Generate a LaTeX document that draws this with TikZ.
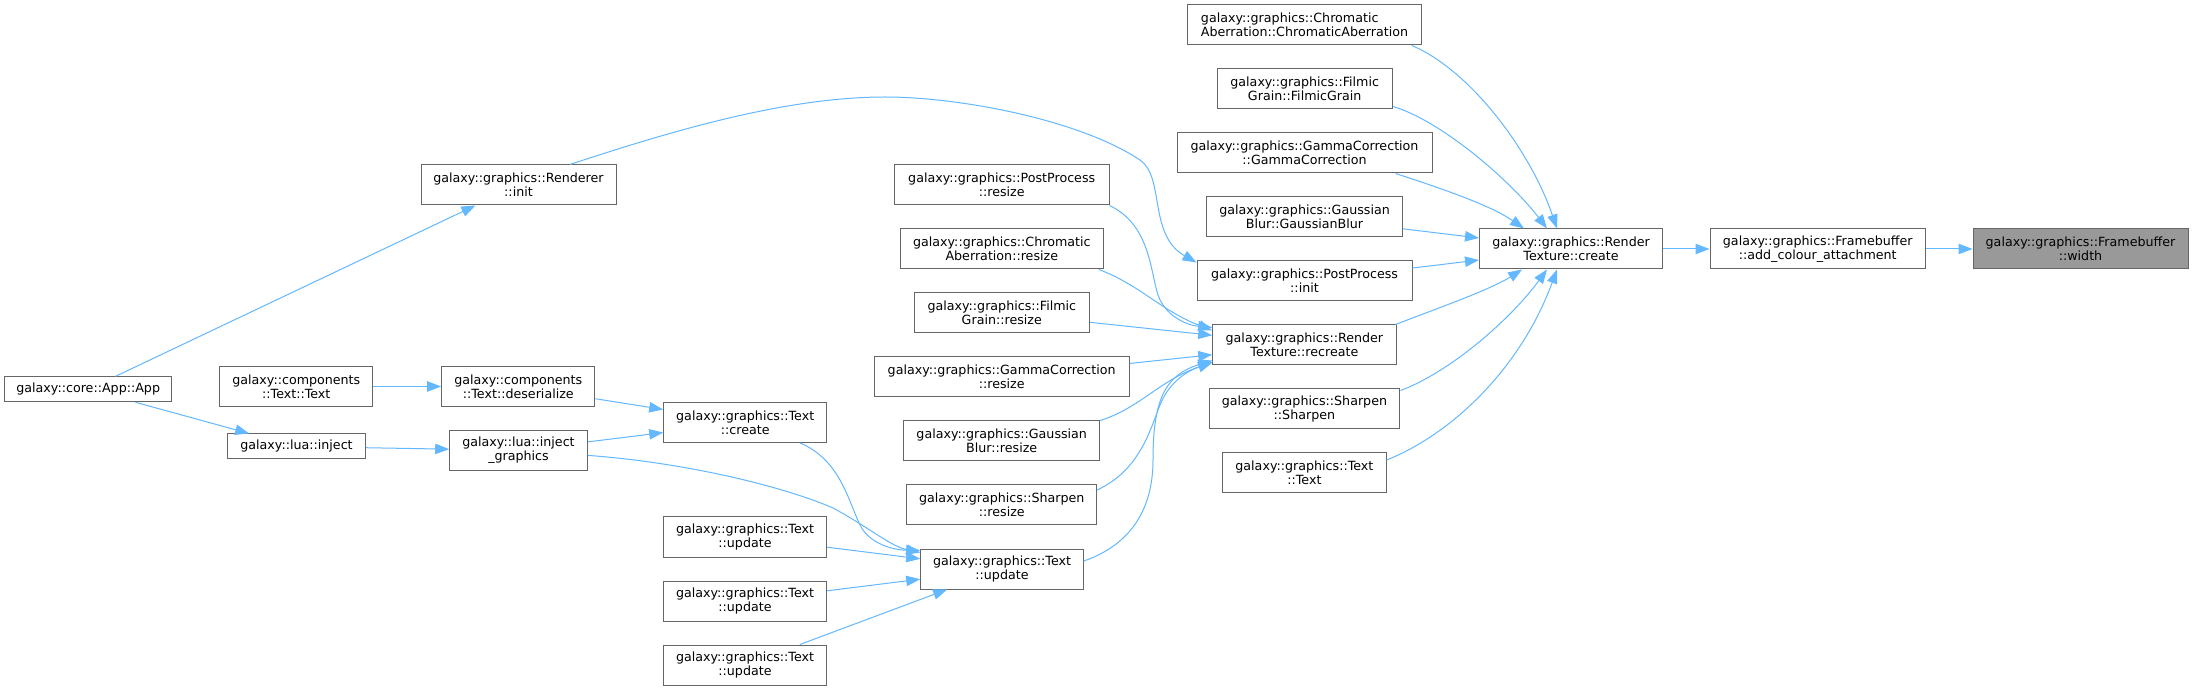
\documentclass[tikz,border=0pt]{standalone}
\usepackage{fontspec}
\setmainfont{DejaVu Sans}
\usetikzlibrary{arrows.meta}
\definecolor{callblue}{HTML}{63B8FF}
\definecolor{boxgray}{HTML}{666666}
\definecolor{focusgray}{HTML}{999999}

\begin{document}
\begin{tikzpicture}[
  x=0.75pt, y=-0.75pt,
  font=\fontsize{9.5}{10.75}\selectfont,
  fn/.style={draw=boxgray, fill=white, line width=0.75pt, align=center,
             inner xsep=2pt, inner ysep=0pt, minimum height=30pt},
  fnone/.style={fn, minimum height=18.75pt},
  wd/.style={minimum width=#1*0.75pt},
  call/.style={-{Triangle[length=10.5pt,width=7.8pt]}, draw=callblue,
               line width=0.75pt}
]
\fill[white] (0,0) rectangle (2193,691);
\useasboundingbox (0,0) rectangle (2193,691);

\node[fn,wd=215,fill=focusgray] (fbWidth) at (2080.5,249) {galaxy::graphics::Framebuffer\\::width};
\node[fn,wd=215.5] (addCol) at (1817.75,249) {galaxy::graphics::Framebuffer\\::add\_colour\_attachment};
\node[fn,wd=183] (rtCreate) at (1571,249) {galaxy::graphics::Render\\Texture::create};

\node[fn,wd=233.6,align=left] (caCtor) at (1304.5,25) {galaxy::graphics::Chromatic\\Aberration::ChromaticAberration};
\node[fn,wd=175.3] (fgCtor) at (1304.7,89) {galaxy::graphics::Filmic\\Grain::FilmicGrain};
\node[fn,wd=255] (gcCtor) at (1304.5,153) {galaxy::graphics::GammaCorrection\\::GammaCorrection};
\node[fn,wd=196.4] (gbCtor) at (1304.5,217) {galaxy::graphics::Gaussian\\Blur::GaussianBlur};
\node[fn,wd=215] (ppInit) at (1304.5,281) {galaxy::graphics::PostProcess\\::init};
\node[fn,wd=183.3] (rtRecreate) at (1304.4,345) {galaxy::graphics::Render\\Texture::recreate};
\node[fn,wd=189.3] (shCtor) at (1304.4,409) {galaxy::graphics::Sharpen\\::Sharpen};
\node[fn,wd=163.3] (txCtor) at (1304.4,473) {galaxy::graphics::Text\\::Text};

\node[fn,wd=214.7] (ppResize) at (1001.7,185) {galaxy::graphics::PostProcess\\::resize};
\node[fn,wd=203] (caResize) at (1001.8,249) {galaxy::graphics::Chromatic\\Aberration::resize};
\node[fn,wd=175] (fgResize) at (1001.8,313) {galaxy::graphics::Filmic\\Grain::resize};
\node[fn,wd=254.7] (gcResize) at (1001.7,377) {galaxy::graphics::GammaCorrection\\::resize};
\node[fn,wd=196] (gbResize) at (1001.7,441) {galaxy::graphics::Gaussian\\Blur::resize};
\node[fn,wd=189.7] (shResize) at (1001.8,505) {galaxy::graphics::Sharpen\\::resize};
\node[fn,wd=162.6] (txUpdate) at (1002,569) {galaxy::graphics::Text\\::update};

\node[fn,wd=195] (rdInit) at (518.5,185) {galaxy::graphics::Renderer\\::init};
\node[fn,wd=163] (txCreate) at (745.2,422.5) {galaxy::graphics::Text\\::create};
\node[fn,wd=163] (txUpdA) at (745,537) {galaxy::graphics::Text\\::update};
\node[fn,wd=163] (txUpdB) at (745,601) {galaxy::graphics::Text\\::update};
\node[fn,wd=163] (txUpdC) at (745,665) {galaxy::graphics::Text\\::update};

\node[fn,wd=153.3] (cmpDeser) at (518.3,386.5) {galaxy::components\\::Text::deserialize};
\node[fn,wd=137.6] (injGfx) at (518.5,450.4) {galaxy::lua::inject\\\_graphics};
\node[fn,wd=153.3] (cmpText) at (296.3,386.5) {galaxy::components\\::Text::Text};
\node[fnone,wd=137.6] (luaInj) at (296.5,446.5) {galaxy::lua::inject};
\node[fnone,wd=167] (appApp) at (88.2,389.3) {galaxy::core::App::App};

\draw[call] (rtCreate) -- (addCol);
\draw[call] (addCol) -- (fbWidth);

\draw[call] ([shift={(-10,0)}]caCtor.south east) .. controls (1470,70) and (1530,150) .. ([shift={(-14,0)}]rtCreate.north);
\draw[call] ([shift={(0,-3)}]fgCtor.south east) .. controls (1440,120) and (1510,180) .. ([shift={(-24,0)}]rtCreate.north);
\draw[call] ([shift={(-37,0)}]gcCtor.south east) .. controls (1440,188) and (1490,205) .. ([shift={(-47,0)}]rtCreate.north);
\draw[call] (gbCtor) -- (rtCreate);
\draw[call] (ppInit) -- (rtCreate);
\draw[call] ([shift={(-1,0)}]rtRecreate.north east) .. controls (1430,311) and (1490,290) .. ([shift={(-49,0)}]rtCreate.south);
\draw[call] ([shift={(1,2)}]shCtor.north east) .. controls (1450,372) and (1510,320) .. ([shift={(-24,0)}]rtCreate.south);
\draw[call] ([shift={(0,-13)}]txCtor.east) .. controls (1450,435) and (1520,370) .. ([shift={(-14,0)}]rtCreate.south);

\draw[call] ([shift={(51.5,0)}]rdInit.north) .. controls (680,128) and (790,97) .. (885,97)
  .. controls (960,97) and (1080,120) .. (1140,160)
  .. controls (1165,177) and (1148,235) .. ([shift={(0,2)}]ppInit.north west);

\draw[call] (ppResize.south east) .. controls (1150,225) and (1150,270) .. (1158,295)
  .. controls (1165,315) and (1185,325) .. ([shift={(0,3)}]rtRecreate.north west);
\draw[call] ([shift={(-5,0)}]caResize.south east) .. controls (1140,285) and (1160,310) .. ([shift={(0,6)}]rtRecreate.north west);
\draw[call] (fgResize) -- (rtRecreate);
\draw[call] (gcResize) -- (rtRecreate);
\draw[call] (gbResize.north east) .. controls (1140,408) and (1160,380) .. ([shift={(0,-3)}]rtRecreate.south west);
\draw[call] ([shift={(0,-15)}]shResize.east) .. controls (1140,470) and (1150,430) .. (1160,405)
  .. controls (1170,380) and (1190,370) .. ([shift={(0,-3)}]rtRecreate.south west);
\draw[call] ([shift={(0,-8)}]txUpdate.east) .. controls (1130,545) and (1153,510) .. (1153,460)
  .. controls (1153,400) and (1165,375) .. ([shift={(0,-5)}]rtRecreate.south west);

\draw[call] (txUpdA) -- (txUpdate);
\draw[call] (txUpdB) -- (txUpdate);
\draw[call] (txUpdC) -- (txUpdate);
\draw[call] ([shift={(55,0)}]txCreate.south) .. controls (840,460) and (848,500) .. (860,525)
  .. controls (870,545) and (895,550) .. ([shift={(0,2)}]txUpdate.north west);
\draw[call] ([shift={(0,5)}]injGfx.east) .. controls (680,462) and (780,485) .. (833,508)
  .. controls (870,528) and (890,546) .. ([shift={(0,4)}]txUpdate.north west);

\draw[call] (cmpDeser) -- (txCreate);
\draw[call] (injGfx) -- (txCreate);
\draw[call] (cmpText) -- (cmpDeser);
\draw[call] (luaInj) -- (injGfx);
\draw[call] (appApp) -- (luaInj);
\draw[call] (appApp) -- (rdInit);
\end{tikzpicture}
\end{document}
